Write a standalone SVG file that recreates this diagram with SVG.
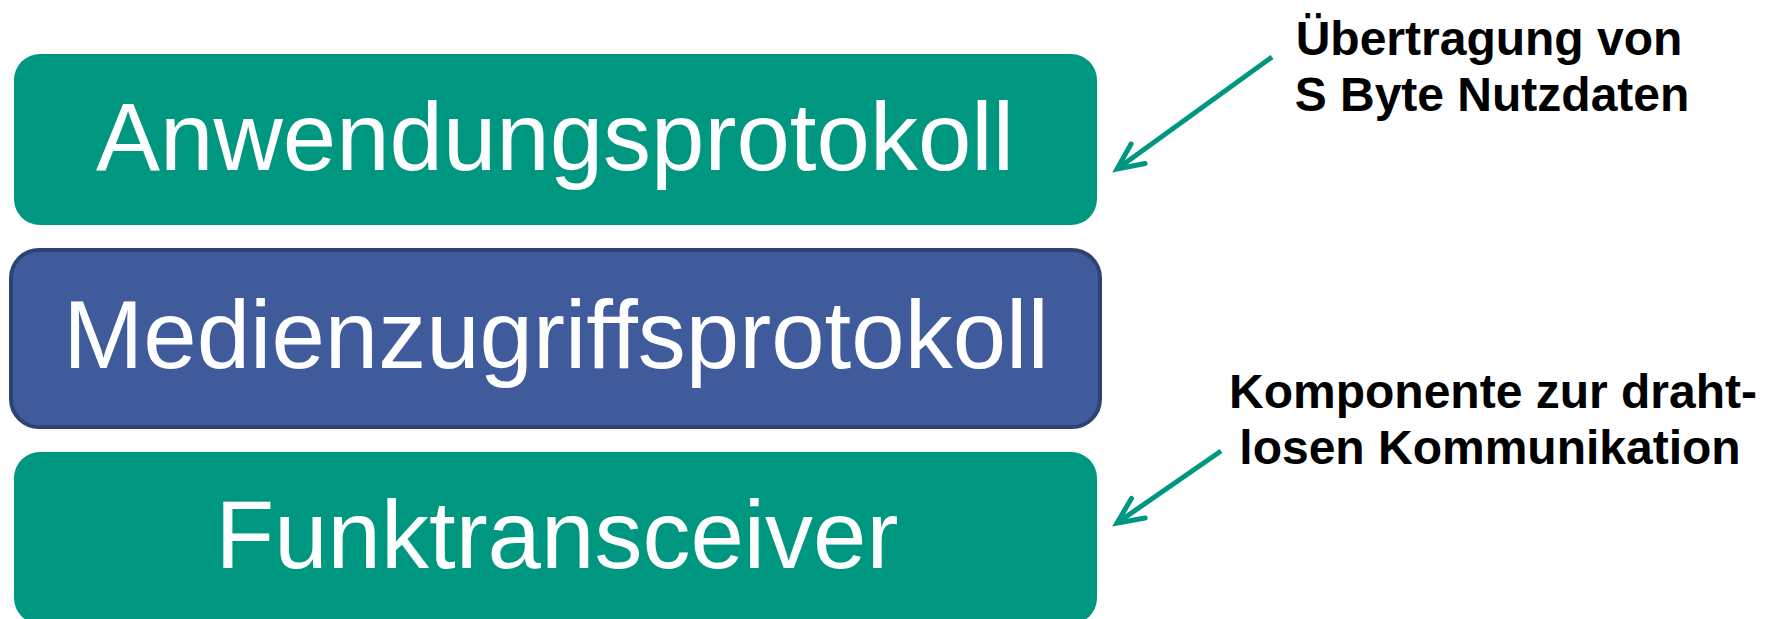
<svg xmlns="http://www.w3.org/2000/svg" width="1770" height="619" viewBox="0 0 1770 619">
  <style>
    .layer-teal { fill: #009780; }
    .layer-blue { fill: #3F5B9B; stroke: #2D4473; stroke-width: 4; }
    .layer-text { font-family: "Liberation Sans", Arial, sans-serif; font-size: 96px; fill: #FFFFFF; text-anchor: middle; }
    .note { font-family: "Liberation Sans", Arial, sans-serif; font-size: 48px; font-weight: bold; fill: #000000; text-anchor: middle; }
    .pointer { stroke: #009780; stroke-width: 5; fill: none; }
  </style>
  <defs>
    <marker id="open-arrow" markerUnits="userSpaceOnUse" markerWidth="40" markerHeight="40" viewBox="-30 -20 40 40" refX="0" refY="0" orient="auto" overflow="visible">
      <path d="M -26,-12 L 0,0 L -26,12" fill="none" stroke="#009780" stroke-width="5" stroke-linejoin="miter" stroke-linecap="round"/>
    </marker>
  </defs>
  <rect width="1770" height="619" fill="#FFFFFF"/>

  <g id="anwendungsprotokoll">
    <rect class="layer-teal" x="14" y="54" width="1083" height="171" rx="26" ry="26"/>
    <text class="layer-text" x="555" y="170">Anwendungsprotokoll</text>
  </g>

  <g id="medienzugriffsprotokoll">
    <rect class="layer-blue" x="11" y="250" width="1089" height="177" rx="28" ry="28"/>
    <text class="layer-text" x="556" y="368">Medienzugriffsprotokoll</text>
  </g>

  <g id="funktransceiver">
    <rect class="layer-teal" x="14" y="452" width="1083" height="172" rx="26" ry="26"/>
    <text class="layer-text" x="557" y="568">Funktransceiver</text>
  </g>

  <g id="note-nutzdaten">
    <text class="note" x="1489" y="55">Übertragung von</text>
    <text class="note" x="1492" y="111">S Byte Nutzdaten</text>
  </g>

  <g id="note-funk">
    <text class="note" x="1493" y="408">Komponente zur draht-</text>
    <text class="note" x="1490" y="464">losen Kommunikation</text>
  </g>

  <g id="connectors">
    <line class="pointer" x1="1272" y1="57" x2="1117" y2="169" marker-end="url(#open-arrow)"/>
    <line class="pointer" x1="1221" y1="451" x2="1117" y2="523" marker-end="url(#open-arrow)"/>
  </g>
</svg>
